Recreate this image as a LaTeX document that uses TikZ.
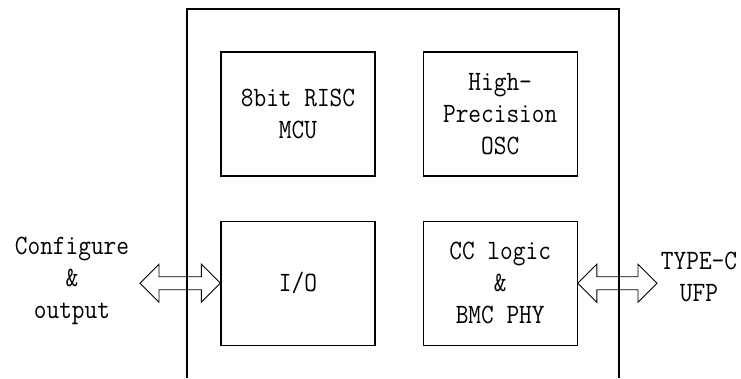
\documentclass[tikz,border=0pt]{standalone}
\usepackage{fontspec}
\setmainfont{Latin Modern Mono}[FakeStretch=0.88]
\usepackage{tikz}
\usetikzlibrary{positioning, calc}
\tikzset{
  blok/.style={draw=black, line width=1.2pt, minimum width=154pt,
               minimum height=124pt, align=center, inner sep=0pt,
               font=\fontsize{28}{32}\selectfont},
  lbl/.style={align=center, inner sep=0pt, font=\fontsize{28}{32}\selectfont},
  fatarrow/.style={draw=black, line width=0.9pt, line join=miter},
}
% hollow double-headed arrow between two points on one level
\newcommand{\fatarrow}[2]{%
  \draw[fatarrow] (#1) -- ($(#1)+(19,-19)$) -- ($(#1)+(19,-6.5)$)
    -- ($(#2)+(-19,-6.5)$) -- ($(#2)+(-19,-19)$) -- (#2)
    -- ($(#2)+(-19,19)$) -- ($(#2)+(-19,6.5)$) -- ($(#1)+(19,6.5)$)
    -- ($(#1)+(19,19)$) -- cycle;}
\begin{document}
\begin{tikzpicture}[x=1pt, y=-1pt]
  \useasboundingbox (0,0) rectangle (741,378);
  % the chip outline, open at the bottom
  \draw[line width=1.2pt] (187,378) -- (187,9) -- (619,9) -- (619,378);
  % inner blocks
  \node[blok] (mcu) at (298,114) {8bit RISC\\MCU};
  \node[blok, right=47pt of mcu] (osc) {High-\\Precision\\OSC};
  \node[blok, below=44pt of mcu] (io) {I/O};
  \node[blok, right=47pt of io] (cc) {CC logic\\\&\\BMC PHY};
  % outside ports
  \node[lbl] (cfg) at (72,281) {Configure\\\&\\output};
  \node[lbl] (ufp) at (699,277) {TYPE-C\\UFP};
  \coordinate (cfgtip) at (140,0 |- io.west);
  \coordinate (ufptip) at (657,0 |- cc.east);
  % links
  \fatarrow{cfgtip}{io.west}
  \fatarrow{cc.east}{ufptip}
\end{tikzpicture}
\end{document}
